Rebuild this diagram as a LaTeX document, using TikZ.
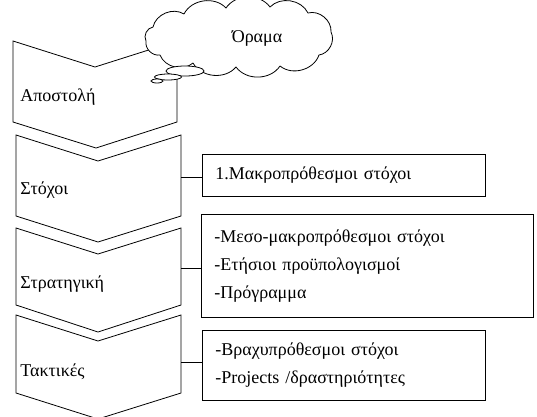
\documentclass[tikz,border=0pt]{standalone}
\usepackage{fontspec}
\setmainfont{Liberation Serif}
\usetikzlibrary{shapes.geometric}
\begin{document}
\begin{tikzpicture}[x=1pt,y=-1pt,line width=0.8pt,
  chev/.style={draw,line join=miter,fill=white},
  lbl/.style={anchor=west,inner sep=0pt,font=\fontsize{18}{21}\selectfont},
  infobox/.style={draw,rectangle,anchor=north west,align=left,inner xsep=13pt,
    inner ysep=0pt,font=\fontsize{18}{28}\selectfont},
  bubble/.style={draw,ellipse,fill=white,inner sep=0pt},
  puff/.style={bend left=55},
]
\useasboundingbox (0,0) rectangle (537,416);

% stacked chevrons, top to bottom
\draw[chev] (13,41) -- (95,67) -- (177,41) -- (177,122) -- (96,148) -- (13,122) -- cycle;
\draw[chev] (16,135) -- (98,161) -- (181,135) -- (181,216) -- (98,242) -- (16,216) -- cycle;
\draw[chev] (16,228) -- (98,254) -- (181,228) -- (181,305) -- (98,332) -- (16,305) -- cycle;
\draw[chev] (16,315) -- (98,341) -- (181,315) -- (181,393) -- (98,419) -- (16,393) -- cycle;

\node[lbl] (mission) at (20,97) {Αποστολή};
\node[lbl] (goals) at (20,190) {Στόχοι};
\node[lbl] (strategy) at (20,284) {Στρατηγική};
\node[lbl] (tactics) at (20,372) {Τακτικές};

% vision thought cloud, drawn puff by puff
\draw[fill=white,line join=round]
  (153,27) to[puff] (184,14) to[puff] (226,8) to[puff] (270,7)
  to[puff] (308,13) to[puff] (331,32) to[puff] (319,55)
  to[puff] (280,66) to[puff] (236,67) to[puff] (193,63)
  to[puff] (160,55) to[puff] (146,41) to[puff] cycle;
\node[font=\fontsize{18}{21}\selectfont,inner sep=0pt] (vision) at (257,38) {Όραμα};
\node[bubble,minimum width=38pt,minimum height=10pt] (b1) at (185,71) {};
\node[bubble,minimum width=27pt,minimum height=6pt] (b2) at (168,77) {};
\node[bubble,minimum width=12pt,minimum height=4pt] (b3) at (157,81) {};

% detail boxes
\node[infobox,minimum width=283pt,minimum height=42pt,text width=257pt] (box1) at (202,154)
  {1.Μακροπρόθεσμοι στόχοι};
\node[infobox,minimum width=332pt,minimum height=103pt,text width=306pt] (box2) at (201,214)
  {-Μεσο-μακροπρόθεσμοι στόχοι\\-Ετήσιοι προϋπολογισμοί\\-Πρόγραμμα};
\node[infobox,minimum width=283pt,minimum height=70pt,text width=257pt] (box3) at (202,330)
  {-Βραχυπρόθεσμοι στόχοι\\-Projects /δραστηριότητες};

% connectors from chevrons to boxes
\coordinate (g) at (181,177);
\coordinate (s) at (181,268);
\coordinate (t) at (181,362);
\draw (g) -- (g -| box1.west);
\draw (s) -- (s -| box2.west);
\draw (t) -- (t -| box3.west);
\end{tikzpicture}
\end{document}
